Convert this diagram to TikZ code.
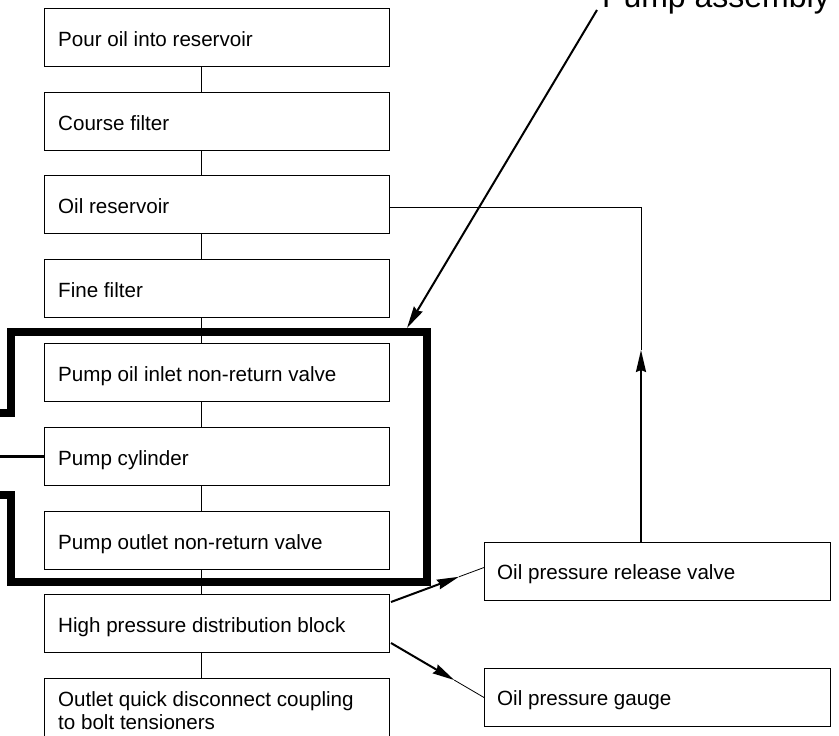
\documentclass[tikz,border=0pt]{standalone}
\usepackage{fontspec}
\setmainfont{Liberation Sans}
\usetikzlibrary{calc,arrows.meta}
\begin{document}
\begin{tikzpicture}[x=1pt,y=-1pt,
  box/.style={draw, line width=1pt, minimum width=345pt, minimum height=58pt, anchor=north west, inner sep=0pt},
  rbox/.style={box, minimum width=346pt},
  txt/.style={anchor=base west, inner sep=0pt, font=\fontsize{20.6}{22.6}\selectfont, align=left},
  biglabel/.style={anchor=base west, inner sep=0pt, font=\fontsize{32}{36}\selectfont},
  link/.style={line width=0.9pt},
  heavy/.style={line width=7.5pt, line join=miter},
  pointer/.style={line width=2pt, -{Stealth[length=22pt,width=10pt,inset=2pt]}},
  thinpart/.style={line width=0.8pt}]
\useasboundingbox (0,0) rectangle (839,736);
\clip (0,0) rectangle (839,736);

% left column boxes
\node[box] (b1) at (44,8) {};
\node[box] (b2) at (44,92) {};
\node[box] (b3) at (44,175) {};
\node[box] (b4) at (44,259) {};
\node[box] (b5) at (44,343) {};
\node[box] (b6) at (44,427) {};
\node[box] (b7) at (44,511) {};
\node[box] (hp) at (44,594) {};
\node[box, minimum height=64pt] (b9) at (44,678) {};

\node[txt] (t1) at ($(b1.north west)+(14,38.5)$) {Pour oil into reservoir};
\node[txt] (t2) at ($(b2.north west)+(14,38.5)$) {Course filter};
\node[txt] (t3) at ($(b3.north west)+(14,38.5)$) {Oil reservoir};
\node[txt] (t4) at ($(b4.north west)+(14,38.5)$) {Fine filter};
\node[txt] (t5) at ($(b5.north west)+(14,38.5)$) {Pump oil inlet non-return valve};
\node[txt] (t6) at ($(b6.north west)+(14,38.5)$) {Pump cylinder};
\node[txt] (t7) at ($(b7.north west)+(14,38.5)$) {Pump outlet non-return valve};
\node[txt] (t8) at ($(hp.north west)+(14,38.5)$) {High pressure distribution block};
\node[txt] (t9) at ($(b9.north west)+(14,51.3)$) {Outlet quick disconnect coupling\\to bolt tensioners};

% right boxes
\node[rbox] (rv) at (484,542) {};
\node[rbox] (gg) at (484,668) {};
\node[txt] (trv) at ($(rv.north west)+(13,37.5)$) {Oil pressure release valve};
\node[txt] (tgg) at ($(gg.north west)+(13,37.5)$) {Oil pressure gauge};

% vertical connectors
\coordinate (vx) at (201,0);
\draw[link] (b1.south -| vx) -- (b2.north -| vx);
\draw[link] (b2.south -| vx) -- (b3.north -| vx);
\draw[link] (b3.south -| vx) -- (b4.north -| vx);
\draw[link] (b4.south -| vx) -- (b5.north -| vx);
\draw[link] (b5.south -| vx) -- (b6.north -| vx);
\draw[link] (b6.south -| vx) -- (b7.north -| vx);
\draw[link] (b7.south -| vx) -- (hp.north -| vx);
\draw[link] (hp.south -| vx) -- (b9.north -| vx);

% return line from release valve to reservoir
\coordinate (rx) at (641,0);
\coordinate (rtip) at (641,350);
\draw[link] ($(b3.east)+(0,2.5)$) -| (rtip);
\draw[pointer] (rv.north -| rx) -- (rtip);

% pump assembly outline
\draw[heavy] (0,413) -- (11,413) -- (11,332) -- (427,332) -- (427,582) -- (11,582) -- (11,495) -- (0,495);
\coordinate (o) at (0,0);
\draw[line width=2.5pt] (b6.west) -- (b6.west -| o);

% pump assembly label
\node[biglabel] (pa) at (602,7) {Pump assembly};
\coordinate (pa0) at ($(pa.base west)+(-5,3)$);
\coordinate (pa1) at (407,328);
\draw[pointer] (pa0) -- (pa1);

% arrows from high pressure block
\coordinate (h1) at ($(hp.north east)+(1,8)$);
\coordinate (h2) at ($(hp.south east)+(1,-10)$);
\coordinate (r1) at ($(rv.west)+(0,-4)$);
\coordinate (g1) at (gg.west);
\draw[pointer] (h1) -- ($(h1)!0.73!(r1)$);
\draw[thinpart] ($(h1)!0.73!(r1)$) -- (r1);
\draw[pointer] (h2) -- ($(h2)!0.68!(g1)$);
\draw[thinpart] ($(h2)!0.68!(g1)$) -- (g1);
\end{tikzpicture}
\end{document}
